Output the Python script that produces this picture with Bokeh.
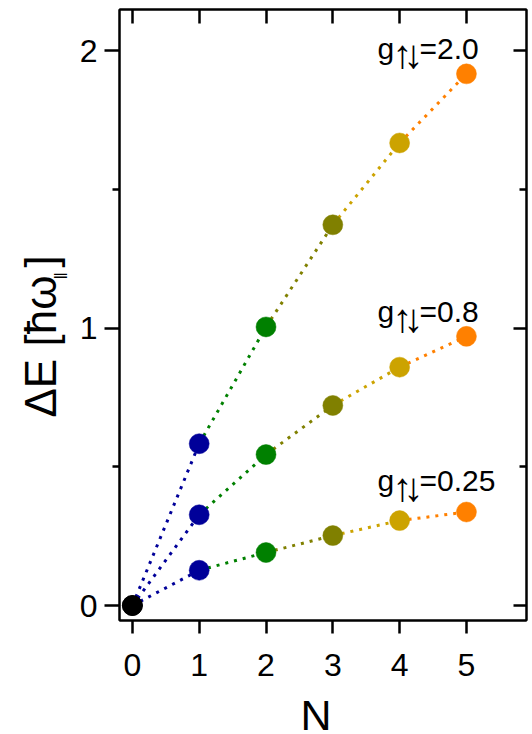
import math
from bokeh.plotting import figure
from bokeh.models import Range1d, FixedTicker, LinearAxis
from bokeh.layouts import row, column
from bokeh.embed import file_html
from bokeh.resources import INLINE
from bokeh.core.properties import value

# ---- data ----
N = [0, 1, 2, 3, 4, 5]
dE_g025 = [0.0, 0.127, 0.191, 0.252, 0.306, 0.337]
dE_g08 = [0.0, 0.327, 0.544, 0.721, 0.859, 0.970]
dE_g20 = [0.0, 0.583, 1.004, 1.372, 1.667, 1.916]
point_colors = ["#000000", "#000099", "#008000", "#808000", "#CCA300", "#FF8000"]
g_values = ["2.0", "0.8", "0.25"]
x_ticks = [0, 1, 2, 3, 4, 5]
y_ticks = [0, 1, 2]
y_minor_ticks = [0.5, 1.5]

# annotation anchors (data coordinates)
g_label_x = [3.67, 3.67, 3.67]
g_label_y = [1.957, 1.009, 0.400]

FONT = "Liberation Sans"
TXT = dict(text_font=value(FONT), text_align="left", text_baseline="alphabetic",
           text_color="black")

x_range = Range1d(-0.193, 5.899)
y_range = Range1d(-0.054, 2.148)

# ---- main plot ----
p = figure(width=456, height=690, output_backend="svg", toolbar_location=None,
           title_location=None, x_range=x_range, y_range=y_range,
           min_border_left=40, min_border_right=6, min_border_top=9,
           min_border_bottom=70)
p.grid.visible = False
p.outline_line_color = "black"
p.outline_line_width = 2

xa = p.xaxis[0]
xa.ticker = FixedTicker(ticks=x_ticks)
xa.major_tick_out = 13
xa.major_tick_in = 0
xa.major_tick_line_width = 2.5
xa.minor_tick_line_color = None
xa.axis_line_width = 2
xa.major_label_text_font = FONT
xa.major_label_text_font_size = "32px"
xa.major_label_text_color = "black"
xa.major_label_standoff = 20

ya = p.yaxis[0]
ya.ticker = FixedTicker(ticks=y_ticks, minor_ticks=y_minor_ticks)
ya.major_tick_out = 15
ya.major_tick_in = 0
ya.minor_tick_out = 7
ya.minor_tick_in = 0
ya.major_tick_line_width = 2.5
ya.minor_tick_line_width = 2.5
ya.axis_line_width = 2
ya.major_label_text_font = FONT
ya.major_label_text_font_size = "32px"
ya.major_label_text_color = "black"
ya.major_label_standoff = 7

top = LinearAxis(ticker=FixedTicker(ticks=x_ticks), major_tick_in=14, major_tick_out=0,
                 major_tick_line_width=2.5, minor_tick_line_color=None,
                 axis_line_width=2, major_label_standoff=0,
                 major_label_overrides={t: "" for t in x_ticks},
                 major_label_text_font_size="1px")
p.add_layout(top, "above")
right = LinearAxis(ticker=FixedTicker(ticks=y_ticks, minor_ticks=y_minor_ticks),
                   major_tick_in=13, major_tick_out=0, minor_tick_in=7, minor_tick_out=0,
                   major_tick_line_width=2.5, minor_tick_line_width=2.5,
                   axis_line_width=2, major_label_standoff=0,
                   major_label_overrides={t: "" for t in y_ticks},
                   major_label_text_font_size="1px")
p.add_layout(right, "right")

# dotted connecting segments, coloured by the end point
series = [dE_g025, dE_g08, dE_g20]
x0, y0, x1, y1, cols = [], [], [], [], []
for s in series:
    for i in range(1, len(N)):
        x0.append(N[i - 1]); y0.append(s[i - 1])
        x1.append(N[i]); y1.append(s[i])
        cols.append(point_colors[i])
p.segment(x0=x0, y0=y0, x1=x1, y1=y1, line_color=cols, line_width=3, line_dash="3 6")

for s in series:
    p.scatter(x=N, y=s, size=20, fill_color=point_colors, line_color=point_colors,
              line_width=0.5)

# g labels: g, subscript arrows, =value
p.text(x=g_label_x, y=g_label_y, text=["g"] * 3, text_font_size="30px",
       y_offset=-14, **TXT)
ARROW = dict(text_font=value(FONT), text_font_size="40px",
             text_align="center", text_baseline="middle", text_color="black")
p.text(x=g_label_x, y=g_label_y, text=["↑"] * 3, x_offset=25, y_offset=-8, **ARROW)
p.text(x=g_label_x, y=g_label_y, text=["↓"] * 3, x_offset=36, y_offset=-8, **ARROW)
p.text(x=g_label_x, y=g_label_y, text=["=" + v for v in g_values],
       text_font_size="30px", x_offset=42, y_offset=-14, **TXT)

# ---- y-axis title strip (left) ----
ylab = figure(width=76, height=734, output_backend="svg", toolbar_location=None,
              title_location=None, x_range=Range1d(0, 76), y_range=y_range,
              x_axis_type=None, y_axis_type=None,
              min_border_left=0, min_border_right=0, min_border_top=9,
              min_border_bottom=114)
ylab.grid.visible = False
ylab.outline_line_color = None
ylab.text(x=[40], y=[0.6775], text=["ΔE [ħω"], angle=math.pi / 2,
          text_font_size="44px", **TXT)
ylab.text(x=[60], y=[1.175], text=["‖"], angle=math.pi / 2,
          text_font_size="18px", **TXT)
ylab.text(x=[40], y=[1.218], text=["]"], angle=math.pi / 2,
          text_font_size="44px", **TXT)

# ---- x-axis title strip (bottom) ----
xlab = figure(width=456, height=44, output_backend="svg", toolbar_location=None,
              title_location=None, x_range=x_range, y_range=Range1d(0, 44),
              x_axis_type=None, y_axis_type=None,
              min_border_left=40, min_border_right=6, min_border_top=0,
              min_border_bottom=0)
xlab.grid.visible = False
xlab.outline_line_color = None
xlab.text(x=[2.75], y=[20], text=["N"], text_font=value(FONT), text_font_size="43px",
          text_align="center", text_baseline="alphabetic", text_color="black")

layout = row(ylab, column(p, xlab))
open("out.html", "w").write(file_html(layout, INLINE))
